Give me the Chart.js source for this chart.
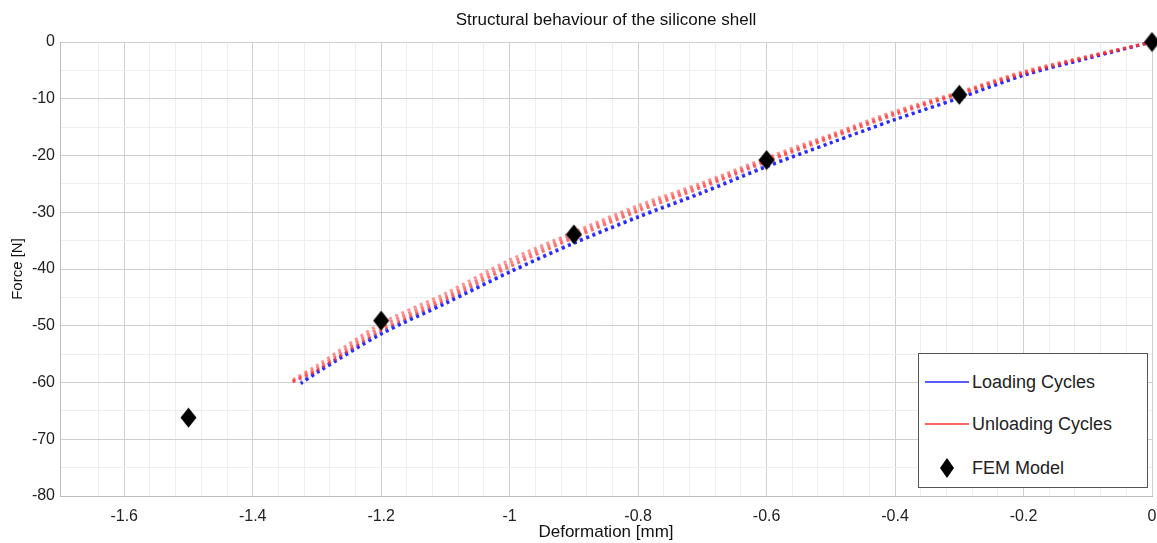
<!DOCTYPE html>
<html>
<head>
<meta charset="utf-8">
<script src="https://cdn.jsdelivr.net/npm/chart.js@4.4.1/dist/chart.umd.min.js"></script>
<style>
  body { margin: 0; background: #fff; }
  #wrap { position: relative; width: 1157px; height: 543px; }
  #legend {
    position: absolute; left: 918px; top: 353px; width: 228px; height: 133px;
    border: 1px solid #555; background: #fff; font-family: "Liberation Sans", Arial, sans-serif;
    font-size: 18px; color: #222;
  }
  .item { position: absolute; left: 0; height: 20px; line-height: 20px; }
  .item .swatch { position: absolute; left: 6px; top: 9px; width: 44px; height: 2px; }
  .item span { position: absolute; left: 53px; white-space: nowrap; }
</style>
</head>
<body>
<div id="wrap">
  <canvas id="chart_1" width="1157" height="543"></canvas>
  <div id="legend">
    <div class="item" style="top:18px"><div class="swatch" style="background-color:rgb(90,90,255)"></div><span>Loading Cycles</span></div>
    <div class="item" style="top:60px"><div class="swatch" style="background-color:rgb(255,100,100)"></div><span>Unloading Cycles</span></div>
    <div class="item" style="top:104px"><svg style="position:absolute;left:20px;top:-1px" width="16" height="22"><polygon points="8,1 15,11 8,21 1,11" fill="#000"/></svg><span>FEM Model</span></div>
  </div>
</div>
<script>
// deformation [mm] / force [N]
const femX = [0, -0.3, -0.6, -0.9, -1.2, -1.5];
const femY = [0, -9.3, -20.8, -33.9, -49.1, -66.2];

const loadX = [0, -0.1, -0.2, -0.3, -0.4, -0.5, -0.6, -0.7, -0.8, -0.9, -1.0, -1.1, -1.2, -1.3, -1.325];
const loading1 = [0, -2.9, -5.9, -9.9, -13.7, -17.8, -22.0, -26.6, -30.9, -35.5, -40.6, -46.1, -51.5, -58.3, -60.2];
const loading2 = [0, -2.8, -5.8, -9.8, -13.6, -17.7, -21.8, -26.4, -30.7, -35.3, -40.4, -45.8, -51.2, -58.0, -60.0];

const unloadX = [0, -0.1, -0.2, -0.3, -0.4, -0.5, -0.6, -0.7, -0.8, -0.9, -1.0, -1.1, -1.2, -1.3, -1.34];
const unloading1 = [0, -2.7, -5.6, -9.2, -12.8, -16.9, -21.1, -25.6, -29.8, -34.5, -39.6, -45.4, -50.8, -57.9, -60.0];
const unloading2 = [0, -2.6, -5.4, -9.0, -12.5, -16.6, -20.8, -25.2, -29.3, -34.0, -39.0, -44.9, -50.2, -57.5, -59.9];
const unloading3 = [0, -2.5, -5.2, -8.8, -12.2, -16.3, -20.4, -24.8, -28.8, -33.5, -38.4, -44.3, -49.6, -57.0, -59.7];

const xTicksMajor = 0.2;
const yTicksMajor = 10;

const fontFamily = 'Liberation Sans, Arial, sans-serif';

function pts(xs, ys) {
  return xs.map(function (x, i) { return { x: x, y: ys[i] }; });
}

function isMajor(v, step) {
  const r = v / step;
  return Math.abs(r - Math.round(r)) < 1e-6;
}

const diamond = document.createElement('canvas');
diamond.width = 17;
diamond.height = 21;
const dctx = diamond.getContext('2d');
dctx.fillStyle = '#000';
dctx.beginPath();
dctx.moveTo(8.5, 0.5);
dctx.lineTo(16.5, 10.5);
dctx.lineTo(8.5, 20.5);
dctx.lineTo(0.5, 10.5);
dctx.closePath();
dctx.fill();

function cycleSet(label, xs, ys, color) {
  return {
    label: label,
    data: pts(xs, ys),
    showLine: true,
    borderColor: color,
    borderWidth: 3,
    borderDash: [3, 3.7],
    pointRadius: 0,
    tension: 0.3,
    fill: false,
    order: 1,
  };
}

new Chart('chart_1', {
  type: 'scatter',
  data: {
    datasets: [
      {
        label: 'FEM Model',
        data: pts(femX, femY),
        pointStyle: diamond,
        pointRadius: 9,
        showLine: false,
        clip: false,
        order: 0,
      },
      cycleSet('Unloading Cycles', unloadX, unloading3, 'rgba(255,60,60,0.55)'),
      cycleSet('Unloading Cycles', unloadX, unloading2, 'rgba(255,40,40,0.6)'),
      cycleSet('Unloading Cycles', unloadX, unloading1, 'rgba(255,30,30,0.65)'),
      cycleSet('Loading Cycles', loadX, loading2, 'rgba(40,40,255,0.7)'),
      cycleSet('Loading Cycles', loadX, loading1, 'rgba(20,20,255,0.9)'),
    ],
  },
  options: {
    responsive: false,
    animation: false,
    layout: { autoPadding: false, padding: { left: 0, right: 5, top: 0, bottom: 0 } },
    plugins: {
      legend: { display: false },
      tooltip: { enabled: false },
      title: {
        display: true,
        fullSize: false,
        text: 'Structural behaviour of the silicone shell',
        color: '#111',
        font: { family: fontFamily, size: 17, weight: 'normal' },
        padding: { top: 10, bottom: 11.6 },
      },
    },
    scales: {
      x: {
        type: 'linear',
        min: -1.7,
        max: 0,
        afterFit: function (s) { s.height = 47; s.paddingRight = 0; },
        ticks: {
          stepSize: 0.04,
          autoSkip: false,
          maxRotation: 0,
          padding: 11,
          color: '#222',
          font: { family: fontFamily, size: 16 },
          callback: function (v) {
            if (!isMajor(v, xTicksMajor) || v < -1.65) return '';
            return String(Math.round(v * 10) / 10);
          },
        },
        grid: {
          drawTicks: false,
          color: function (c) {
            return isMajor(c.tick.value, xTicksMajor) ? '#cfcfcf' : '#eeeeee';
          },
        },
        border: { color: '#bbbbbb' },
        title: {
          display: true,
          text: 'Deformation [mm]',
          color: '#111',
          font: { family: fontFamily, size: 17 },
          padding: { top: 0, bottom: 0 },
        },
      },
      y: {
        type: 'linear',
        min: -80,
        max: 0,
        afterFit: function (s) { s.width = 60; },
        ticks: {
          stepSize: 5,
          autoSkip: false,
          padding: 5,
          color: '#222',
          font: { family: fontFamily, size: 16 },
          callback: function (v) {
            return isMajor(v, yTicksMajor) ? String(v) : '';
          },
        },
        grid: {
          drawTicks: false,
          color: function (c) {
            return isMajor(c.tick.value, yTicksMajor) ? '#cfcfcf' : '#eeeeee';
          },
        },
        border: { color: '#bbbbbb' },
        title: {
          display: true,
          text: 'Force [N]',
          color: '#111',
          font: { family: fontFamily, size: 15 },
          padding: { top: 9, bottom: 0 },
        },
      },
    },
  },
});
</script>
</body>
</html>
